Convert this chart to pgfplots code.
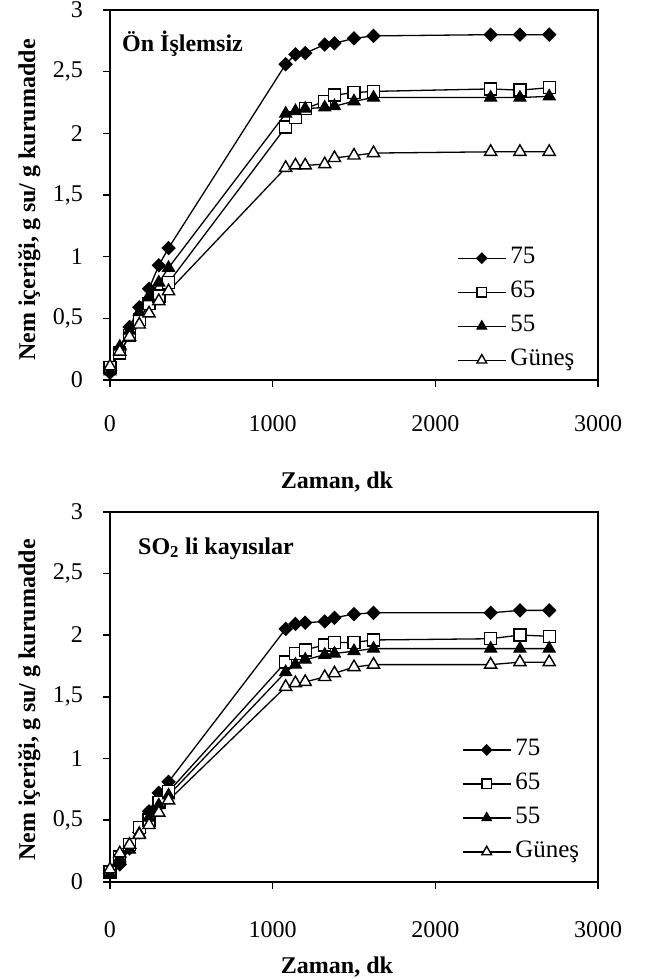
\documentclass[border=0pt]{standalone}
\usepackage{fontspec}
\setmainfont{Liberation Serif}
\usepackage{pgfplots}
\pgfplotsset{compat=1.18}
\pgfplotsset{
  mystyle/.style={
    scale only axis, width=488pt, height=370pt,
    xmin=0, xmax=3000, ymin=0, ymax=3,
    xtick={0,1000,2000,3000}, xticklabels={0,1000,2000,3000},
    ytick={0,0.5,1,1.5,2,2.5,3}, yticklabels={0,{0,5},1,{1,5},2,{2,5},3},
    /pgf/number format/assume math mode=true,
    tick align=outside, major tick length=7pt,
    xtick pos=left, ytick pos=left,
    axis line style={line width=1.6pt},
    every tick/.style={line width=1.6pt, black},
    tick label style={font=\fontsize{24}{24}\selectfont},
    yticklabel style={anchor=east, inner sep=0pt, xshift=-20pt},
    clip=false,
    legend cell align=left,
    legend image code/.code={\draw[mark repeat=2,mark phase=2,#1, every mark/.append style={scale=0.8}] plot coordinates {(0pt,0pt) (24pt,0pt) (48pt,0pt)};},
    legend style={draw=none, fill=none, anchor=north west, inner sep=0pt, column sep=4pt, row sep=9pt,
      font=\fontsize{25}{25}\selectfont, nodes={inner sep=0pt, text height=18pt, text depth=7pt}},
  },
  s75/.style={black, line width=1.3pt, mark=square*, mark size=4.6pt, mark options={rotate=45, fill=black, line width=1pt, solid}},
  s65/.style={black, line width=1.3pt, mark=square*, mark size=6pt, mark options={fill=white, line width=1.4pt, solid}},
  s55/.style={black, line width=1.3pt, mark=triangle*, mark size=7pt, mark options={fill=black, line width=1pt, solid}},
  sgn/.style={black, line width=1.3pt, mark=triangle*, mark size=7pt, mark options={fill=white, line width=1.4pt, solid}},
}
\begin{document}
\begin{tikzpicture}
\path[use as bounding box] (0pt,0pt) rectangle (661pt,-979pt);
% ---------- top ----------
\begin{axis}[mystyle, at={(110pt,-10pt)}, anchor=north west,
  xticklabel style={anchor=base, yshift=-44pt},
  legend style={at={(rel axis cs:0.711,0.3635)}}]
\addplot[s75] coordinates {(0,0.06)(60,0.25)(120,0.43)(180,0.59)(240,0.74)(300,0.93)(360,1.07)(1080,2.56)(1140,2.64)(1200,2.65)(1320,2.72)(1380,2.73)(1500,2.77)(1620,2.79)(2340,2.80)(2520,2.80)(2700,2.80)};
\addlegendentry{75}
\addplot[s65] coordinates {(0,0.10)(60,0.22)(120,0.36)(180,0.49)(240,0.62)(300,0.68)(360,0.79)(1080,2.05)(1140,2.13)(1200,2.20)(1320,2.26)(1380,2.31)(1500,2.33)(1620,2.34)(2340,2.36)(2520,2.35)(2700,2.37)};
\addlegendentry{65}
\addplot[s55] coordinates {(0,0.07)(60,0.27)(120,0.40)(180,0.55)(240,0.67)(300,0.79)(360,0.91)(1080,2.16)(1140,2.18)(1200,2.20)(1320,2.21)(1380,2.22)(1500,2.26)(1620,2.29)(2340,2.29)(2520,2.29)(2700,2.30)};
\addlegendentry{55}
\addplot[sgn] coordinates {(0,0.11)(60,0.23)(120,0.35)(180,0.45)(240,0.54)(300,0.64)(360,0.72)(1080,1.72)(1140,1.74)(1200,1.74)(1320,1.75)(1380,1.80)(1500,1.82)(1620,1.84)(2340,1.85)(2520,1.85)(2700,1.85)};
\addlegendentry{Güneş}
\end{axis}
% ---------- bottom ----------
\begin{axis}[mystyle, at={(110pt,-511.7pt)}, anchor=north west,
  xticklabel style={anchor=base, yshift=-49pt},
  legend style={at={(rel axis cs:0.721,0.3905)}}]
\addplot[s75] coordinates {(0,0.08)(60,0.14)(120,0.27)(180,0.40)(240,0.57)(300,0.72)(360,0.81)(1080,2.05)(1140,2.09)(1200,2.10)(1320,2.11)(1380,2.14)(1500,2.17)(1620,2.18)(2340,2.18)(2520,2.20)(2700,2.20)};
\addlegendentry{75}
\addplot[s65] coordinates {(0,0.08)(60,0.20)(120,0.30)(180,0.44)(240,0.50)(300,0.64)(360,0.73)(1080,1.78)(1140,1.85)(1200,1.88)(1320,1.92)(1380,1.94)(1500,1.94)(1620,1.96)(2340,1.97)(2520,2.00)(2700,1.99)};
\addlegendentry{65}
\addplot[s55] coordinates {(0,0.06)(60,0.19)(120,0.26)(180,0.39)(240,0.52)(300,0.62)(360,0.70)(1080,1.70)(1140,1.76)(1200,1.80)(1320,1.84)(1380,1.85)(1500,1.87)(1620,1.89)(2340,1.89)(2520,1.89)(2700,1.89)};
\addlegendentry{55}
\addplot[sgn] coordinates {(0,0.10)(60,0.23)(120,0.30)(180,0.38)(240,0.46)(300,0.56)(360,0.66)(1080,1.58)(1140,1.61)(1200,1.62)(1320,1.66)(1380,1.69)(1500,1.74)(1620,1.76)(2340,1.76)(2520,1.78)(2700,1.78)};
\addlegendentry{Güneş}
\end{axis}
% ---------- texts ----------
\node[anchor=base west, font=\fontsize{24}{24}\selectfont\bfseries, inner sep=0pt] at (122pt,-52pt) {Ön İşlemsiz};
\node[anchor=base west, font=\fontsize{24}{24}\selectfont\bfseries, inner sep=0pt] at (138pt,-554pt) {SO\textsubscript{2} li kayısılar};
\node[anchor=base, font=\fontsize{24}{24}\selectfont\bfseries, inner sep=0pt] at (337pt,-488pt) {Zaman, dk};
\node[anchor=base, font=\fontsize{24}{24}\selectfont\bfseries, inner sep=0pt] at (337pt,-973pt) {Zaman, dk};
\node[rotate=90, anchor=base, font=\fontsize{24}{24}\selectfont\bfseries, inner sep=0pt] at (35pt,-200pt) {Nem içeriği, g su/ g kurumadde};
\node[rotate=90, anchor=base, font=\fontsize{24}{24}\selectfont\bfseries, inner sep=0pt] at (35pt,-700pt) {Nem içeriği, g su/ g kurumadde};
\end{tikzpicture}
\end{document}
